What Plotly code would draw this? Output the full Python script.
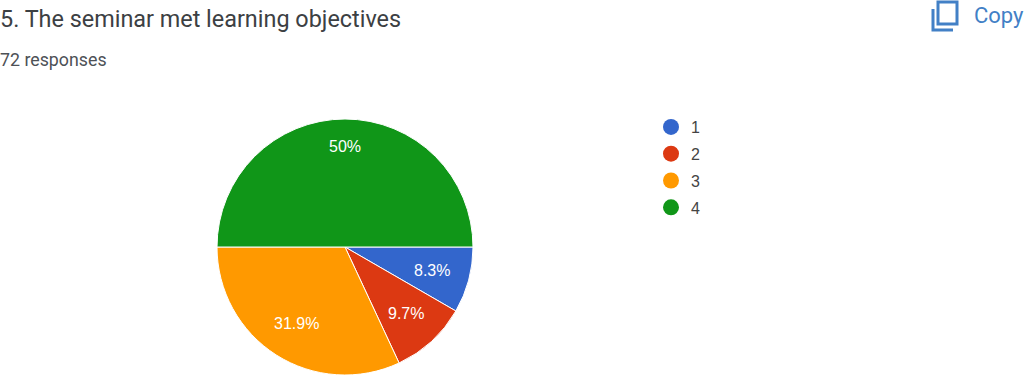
import math
import plotly.graph_objects as go

W, H = 1024, 376
categories = ["1", "2", "3", "4"]
counts = [6, 7, 23, 36]
colors = ["#3366cc", "#dc3912", "#ff9900", "#109618"]
title = "5. The seminar met learning objectives"
subtitle = "72 responses"
total = sum(counts)
labels = [f"{round(c / total * 100, 1):g}%" for c in counts]

CX, CY, R = 345, 247, 128

fig = go.Figure()
fig.add_trace(go.Pie(
    labels=categories, values=counts, textinfo="none",
    sort=False, direction="clockwise", rotation=90,
    marker=dict(colors=colors, line=dict(color="white", width=1)),
    domain=dict(x=[(CX-R)/W, (CX+R)/W], y=[1-(CY+R)/H, 1-(CY-R)/H]),
    showlegend=False, hoverinfo="label+percent",
))
for cat, col in zip(categories, colors):
    fig.add_trace(go.Scatter(
        x=[None], y=[None], mode="markers", name=cat, legendgroup=cat,
        marker=dict(color=col, size=17, symbol="circle"),
    ))

blue = "#4280c6"
shapes = [
    dict(type="rect", xref="paper", yref="paper", x0=938/W, x1=957/W, y0=1-24/H, y1=1-2/H,
         line=dict(color=blue, width=3), fillcolor="rgba(0,0,0,0)"),
    dict(type="path", xref="paper", yref="paper",
         path=f"M {933/W} {1-9/H} L {933/W} {1-30/H} L {953/W} {1-30/H}",
         line=dict(color=blue, width=3)),
]
annotations = [
    dict(text=title, x=0, y=1-19/H, xref="paper", yref="paper", xanchor="left", yanchor="middle",
         xshift=-2, showarrow=False, font=dict(family="Roboto", size=23.4, color="#3c4043")),
    dict(text=subtitle, x=0, y=1-59/H, xref="paper", yref="paper", xanchor="left", yanchor="middle",
         xshift=-2, showarrow=False, font=dict(family="Roboto", size=17.8, color="#4d5156")),
    dict(text="Copy", x=972/W, y=1-16/H, xref="paper", yref="paper", xanchor="left", yanchor="middle",
         showarrow=False, font=dict(family="Roboto", size=22, color=blue)),
]
# slice labels placed along each slice's mid-angle, clockwise from 3 o'clock
cum = 0
for c, lab in zip(counts, labels):
    mid = (cum + c / 2) / total * 2 * math.pi
    cum += c
    rad = R * (0.785 if c / total >= 0.5 else 0.705)
    annotations.append(dict(
        text=lab, x=(CX + rad * math.cos(mid)) / W, y=1 - (CY + rad * math.sin(mid)) / H,
        xref="paper", yref="paper", xanchor="center", yanchor="middle", showarrow=False,
        font=dict(family="Arial, Liberation Sans, sans-serif", size=16, color="white"),
    ))
fig.update_layout(
    width=W, height=H, margin=dict(l=0, r=0, t=0, b=0),
    paper_bgcolor="white", plot_bgcolor="white",
    xaxis=dict(visible=False), yaxis=dict(visible=False),
    showlegend=True, shapes=shapes, annotations=annotations,
    legend=dict(x=651/W, y=1-110/H, xanchor="left", yanchor="top", tracegroupgap=3,
                font=dict(family="Arial, Liberation Sans, sans-serif", size=16, color="#444444"),
                itemwidth=30, bgcolor="rgba(0,0,0,0)"),
)
fig.write_html("out.html", config=dict(displayModeBar=False),
               post_script="document.body.style.margin='0';document.documentElement.style.overflow='hidden';")
